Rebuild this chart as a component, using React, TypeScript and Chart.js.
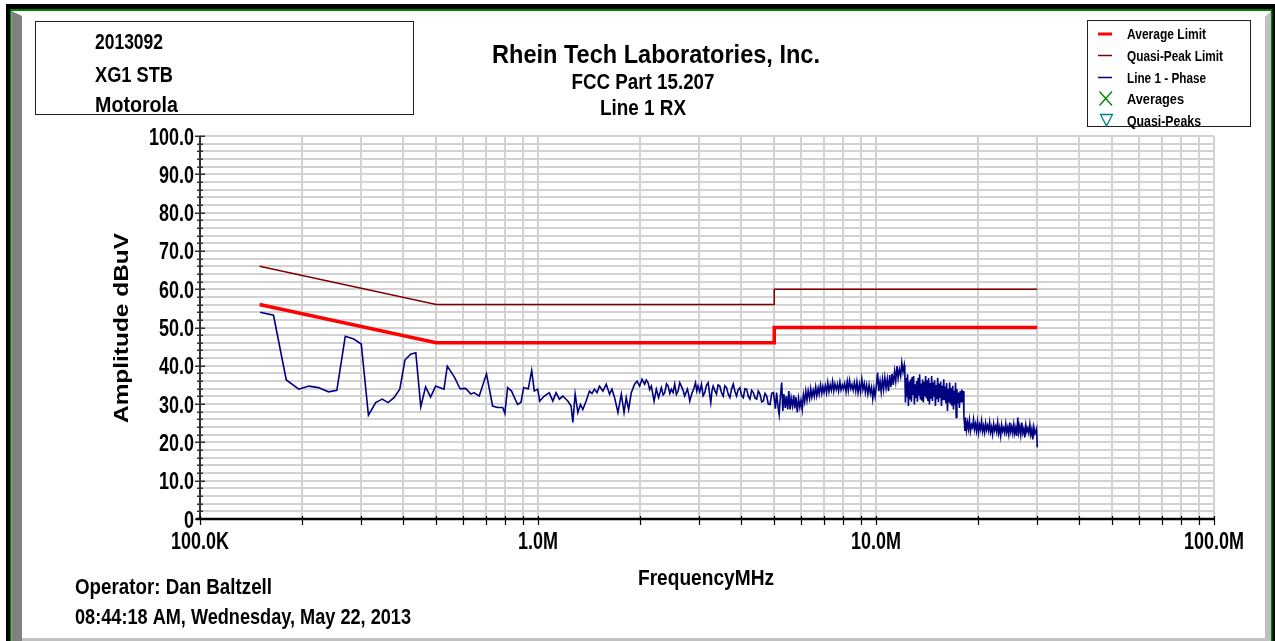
import React, { useEffect, useRef } from 'react';
import { Chart, registerables } from 'chart.js';

Chart.register(...registerables);

const FONT = '"Liberation Sans", Arial, sans-serif';

// ---- limit lines (frequency MHz, amplitude dBuV) ----
const avgLimitFreq = [0.15, 0.5, 5, 5, 30];
const avgLimitDb = [56, 46, 46, 50, 50];
const qpLimitFreq = [0.15, 0.5, 5, 5, 30];
const qpLimitDb = [66, 56, 56, 60, 60];

// ---- measured trace: Line 1 - Phase  [MHz, dBuV] ----
const line1Phase: [number, number][] = [
  [0.1506, 54.0], [0.165, 53.2], [0.18, 36.3], [0.196, 33.9], [0.21, 34.7], [0.224, 34.3],
  [0.24, 33.2], [0.254, 33.6], [0.269, 47.7], [0.285, 47.0], [0.3, 45.7], [0.315, 27.1],
  [0.331, 30.4], [0.346, 31.3], [0.36, 30.4], [0.375, 31.7], [0.39, 33.9], [0.404, 41.5],
  [0.42, 43.0], [0.435, 43.4], [0.45, 29.3], [0.465, 34.5], [0.481, 31.8], [0.498, 34.7],
  [0.527, 33.9], [0.539, 39.9], [0.567, 36.9], [0.588, 34.0], [0.611, 34.1], [0.633, 32.6],
  [0.647, 33.0], [0.67, 32.1], [0.704, 37.9], [0.734, 29.5], [0.759, 29.1], [0.786, 29.1],
  [0.798, 27.6], [0.813, 34.3], [0.835, 33.4], [0.87, 29.9], [0.89, 30.4], [0.907, 34.3],
  [0.936, 34.0], [0.958, 38.8], [0.975, 33.4], [0.998, 33.9], [1.012, 30.8], [1.044, 32.1],
  [1.08, 33.0], [1.106, 30.8], [1.131, 33.0], [1.157, 31.3], [1.184, 32.1], [1.225, 30.8],
  [1.253, 29.5], [1.268, 25.2], [1.288, 32.6], [1.312, 27.8], [1.335, 29.9], [1.357, 28.6],
  [1.388, 30.8], [1.42, 33.4], [1.445, 32.8], [1.469, 33.9], [1.495, 33.0], [1.52, 34.7],
  [1.556, 33.4], [1.592, 35.2], [1.628, 32.6], [1.655, 33.9], [1.685, 31.7], [1.724, 27.8],
  [1.764, 32.6], [1.797, 27.8], [1.824, 31.7], [1.854, 28.6], [1.888, 33.0], [1.931, 35.2],
  [1.963, 36.0], [1.998, 34.7], [2.031, 36.5], [2.068, 35.2], [2.09, 36.3], [2.116, 35.6],
  [2.14, 33.8], [2.164, 34.7], [2.205, 30.8], [2.239, 33.9], [2.275, 31.7], [2.317, 34.3],
  [2.345, 32.4], [2.371, 33.0], [2.4, 35.3], [2.426, 34.7], [2.455, 32.8], [2.481, 33.9],
  [2.51, 33.0], [2.538, 35.2], [2.567, 32.5], [2.597, 33.4], [2.626, 35.6], [2.656, 34.7],
  [2.686, 33.6], [2.716, 32.1], [2.767, 33.9], [2.79, 32.6], [2.812, 30.8], [2.858, 33.0],
  [2.89, 34.0], [2.924, 35.6], [2.95, 33.4], [2.974, 34.7], [3.01, 33.2], [3.045, 35.2],
  [3.08, 32.2], [3.115, 33.0], [3.15, 34.9], [3.188, 35.6], [3.215, 33.0], [3.245, 30.4],
  [3.27, 33.4], [3.298, 34.7], [3.335, 33.5], [3.374, 32.6], [3.41, 35.0], [3.451, 34.7],
  [3.49, 33.0], [3.532, 32.1], [3.57, 34.8], [3.613, 34.3], [3.655, 32.6], [3.696, 31.7],
  [3.74, 34.0], [3.782, 35.2], [3.825, 33.3], [3.868, 32.1], [3.91, 33.8], [3.957, 34.3],
  [4.0, 32.3], [4.05, 31.7], [4.095, 34.0], [4.142, 33.9], [4.19, 32.0], [4.237, 31.3],
  [4.285, 33.6], [4.336, 33.0], [4.385, 31.6], [4.436, 31.3], [4.485, 33.4], [4.537, 32.6],
  [4.59, 30.6], [4.643, 30.8], [4.695, 32.8], [4.75, 32.1], [4.8, 30.0], [4.859, 29.9],
  [4.915, 32.8], [4.972, 33.0],
  [5.0, 31.5], [5.04, 28.8], [5.08, 33.0], [5.13, 29.4], [5.17, 27.3], [5.21, 31.8],
  [5.26, 35.6], [5.3, 28.2], [5.34, 32.6], [5.39, 29.0], [5.43, 32.1], [5.48, 28.6],
  [5.52, 33.4], [5.57, 28.6], [5.61, 31.6], [5.66, 29.5], [5.71, 32.3], [5.75, 28.9],
  [5.8, 31.8], [5.85, 27.8], [5.9, 31.5], [5.95, 29.2], [6.0, 31.0], [6.05, 28.6],
  [6.1, 32.5], [6.15, 30.6], [6.2, 33.4], [6.25, 31.0], [6.3, 33.5], [6.36, 31.4],
  [6.41, 34.0], [6.46, 31.8], [6.52, 33.6], [6.57, 32.0], [6.63, 34.5], [6.68, 32.2],
  [6.74, 34.2], [6.79, 32.6], [6.85, 35.0], [6.91, 32.8], [6.96, 34.6], [7.02, 33.0],
  [7.08, 34.8], [7.14, 32.9], [7.2, 35.6], [7.26, 33.2], [7.32, 35.0], [7.38, 33.6],
  [7.44, 35.9], [7.5, 33.4], [7.56, 35.3], [7.63, 33.8], [7.69, 35.2], [7.75, 33.4],
  [7.82, 35.8], [7.88, 33.7], [7.95, 35.0], [8.01, 34.0], [8.08, 35.4], [8.15, 33.2],
  [8.22, 35.9], [8.28, 33.6], [8.35, 36.2], [8.42, 34.0], [8.49, 35.1], [8.56, 33.6],
  [8.63, 35.6], [8.71, 33.4], [8.78, 35.8], [8.85, 33.0], [8.93, 35.2], [9.0, 33.2],
  [9.08, 36.5], [9.15, 33.8], [9.23, 35.4], [9.3, 33.0], [9.38, 35.0], [9.46, 32.6],
  [9.54, 35.0], [9.62, 32.8], [9.7, 34.4], [9.78, 31.4], [9.86, 34.2], [9.94, 32.0],
  [10.02, 34.6], [10.11, 38.2], [10.19, 33.4], [10.28, 36.0], [10.36, 33.2], [10.45, 36.5],
  [10.53, 33.8], [10.62, 37.0], [10.71, 34.2], [10.8, 36.6], [10.89, 33.4], [10.98, 37.6],
  [11.07, 34.5], [11.16, 37.9], [11.25, 35.0], [11.35, 38.6], [11.44, 36.0], [11.54, 39.9],
  [11.63, 36.8], [11.73, 39.0], [11.83, 37.3], [11.92, 40.8], [12.02, 38.4], [12.12, 40.2],
  [12.17, 38.2],
  [12.22, 30.4], [12.28, 36.9], [12.34, 31.8], [12.4, 37.8], [12.47, 29.5], [12.53, 35.9],
  [12.6, 31.2], [12.66, 36.5], [12.73, 30.6], [12.79, 37.1], [12.86, 32.4], [12.92, 37.3],
  [12.99, 29.9], [13.05, 35.2], [13.12, 31.6], [13.19, 36.0], [13.26, 30.6], [13.33, 36.8],
  [13.4, 32.2], [13.46, 37.8], [13.53, 31.2], [13.6, 35.4], [13.67, 30.9], [13.74, 36.4],
  [13.81, 30.4], [13.88, 35.8], [13.95, 32.0], [14.02, 37.3], [14.1, 31.5], [14.17, 36.2],
  [14.24, 30.8], [14.31, 36.8], [14.39, 29.9], [14.46, 35.5], [14.54, 31.4], [14.61, 37.3],
  [14.69, 30.8], [14.76, 35.6], [14.84, 31.9], [14.91, 36.2], [14.99, 29.5], [15.06, 35.0],
  [15.14, 31.3], [15.22, 36.9], [15.3, 30.5], [15.38, 35.4], [15.46, 31.6], [15.54, 35.8],
  [15.62, 29.5], [15.7, 34.8], [15.78, 31.0], [15.86, 36.5], [15.94, 31.0], [16.02, 34.6],
  [16.1, 30.2], [16.18, 35.5], [16.27, 28.2], [16.35, 34.0], [16.44, 30.4], [16.52, 35.6],
  [16.61, 30.0], [16.69, 34.2], [16.78, 29.6], [16.86, 34.8], [16.95, 28.6], [17.03, 33.5],
  [17.12, 29.8], [17.19, 35.6], [17.27, 26.5], [17.35, 33.9], [17.45, 30.2], [17.55, 33.0],
  [17.65, 29.0], [17.75, 33.4], [17.85, 30.6], [17.95, 33.8], [18.05, 30.5], [18.12, 33.4],
  [18.2, 26.9], [18.33, 23.0],
  [18.4, 26.5], [18.52, 23.2], [18.65, 25.2], [18.77, 23.5], [18.9, 25.8], [19.03, 22.9],
  [19.17, 24.6], [19.3, 23.9], [19.43, 26.0], [19.56, 23.4], [19.7, 24.8], [19.83, 23.0],
  [19.97, 25.4], [20.11, 22.6], [20.25, 24.6], [20.39, 23.4], [20.53, 25.6], [20.67, 22.9],
  [20.81, 24.3], [20.95, 22.6], [21.1, 25.0], [21.24, 23.2], [21.39, 24.4], [21.54, 23.0],
  [21.69, 25.2], [21.83, 22.7], [21.98, 24.0], [22.13, 22.1], [22.29, 24.8], [22.44, 23.1],
  [22.6, 24.2], [22.75, 22.8], [22.91, 25.2], [23.06, 22.4], [23.22, 23.9], [23.38, 21.7],
  [23.54, 24.6], [23.7, 22.9], [23.87, 23.8], [24.03, 22.5], [24.2, 24.8], [24.36, 22.6],
  [24.53, 23.9], [24.7, 22.1], [24.87, 25.2], [25.04, 22.8], [25.21, 24.1], [25.38, 22.4],
  [25.56, 24.7], [25.73, 22.3], [25.91, 23.8], [26.09, 21.7], [26.27, 26.5], [26.45, 22.6],
  [26.63, 24.2], [26.81, 22.0], [27.0, 25.2], [27.18, 22.5], [27.37, 23.6], [27.56, 21.3],
  [27.75, 24.5], [27.94, 22.8], [28.13, 23.7], [28.32, 22.4], [28.52, 24.7], [28.72, 22.0],
  [28.92, 23.5], [29.11, 20.8], [29.31, 24.0], [29.52, 22.3], [29.72, 23.0], [29.86, 23.6],
  [30.0, 18.7],
];

// ---- axes ----
const xGridValues = [
  0.1, 0.2, 0.3, 0.4, 0.5, 0.6, 0.7, 0.8, 0.9,
  1, 2, 3, 4, 5, 6, 7, 8, 9,
  10, 20, 30, 40, 50, 60, 70, 80, 90, 100,
];
const xLabelValues = [0.1, 1, 10, 100];
const xLabelTexts = ['100.0K', '1.0M', '10.0M', '100.0M'];
const yGridValues = [
  0, 2, 4, 6, 8, 10, 12, 14, 16, 18, 20, 22, 24, 26, 28, 30, 32, 34, 36, 38, 40, 42, 44, 46, 48, 50,
  52, 54, 56, 58, 60, 62, 64, 66, 68, 70, 72, 74, 76, 78, 80, 82, 84, 86, 88, 90, 92, 94, 96, 98, 100,
];
const yLabelValues = [0, 10, 20, 30, 40, 50, 60, 70, 80, 90, 100];
const yLabelTexts = ['0', '10.0', '20.0', '30.0', '40.0', '50.0', '60.0', '70.0', '80.0', '90.0', '100.0'];

// ---- texts ----
const infoLines = ['2013092', 'XG1 STB', 'Motorola'];
const titleLines = ['Rhein Tech Laboratories, Inc.', 'FCC Part 15.207', 'Line 1 RX'];
const legendLabels = ['Average Limit', 'Quasi-Peak Limit', 'Line 1 - Phase', 'Averages', 'Quasi-Peaks'];
const yAxisTitle = 'Amplitude dBuV';
const xAxisTitle = 'FrequencyMHz';
const operatorText = 'Operator: Dan Baltzell';
const dateText = '08:44:18 AM, Wednesday, May 22, 2013';

function fitText(
  ctx: CanvasRenderingContext2D,
  text: string,
  x: number,
  y: number,
  size: number,
  width: number,
  align: CanvasTextAlign,
  rotate = false,
) {
  ctx.save();
  ctx.font = `bold ${size}px ${FONT}`;
  const m = ctx.measureText(text).width;
  const sx = width / m;
  ctx.translate(x, y);
  if (rotate) ctx.rotate(-Math.PI / 2);
  ctx.scale(sx, 1);
  ctx.textAlign = align;
  ctx.textBaseline = 'alphabetic';
  ctx.fillStyle = '#000';
  ctx.fillText(text, 0, 0);
  ctx.restore();
}

function scaledText(
  ctx: CanvasRenderingContext2D,
  text: string,
  x: number,
  y: number,
  size: number,
  sx: number,
  align: CanvasTextAlign,
) {
  ctx.save();
  ctx.font = `bold ${size}px ${FONT}`;
  ctx.translate(x, y);
  ctx.scale(sx, 1);
  ctx.textAlign = align;
  ctx.textBaseline = 'alphabetic';
  ctx.fillStyle = '#000';
  ctx.fillText(text, 0, 0);
  ctx.restore();
}

const decorPlugin = {
  id: 'decor',
  beforeDraw(chart: any) {
    const ctx: CanvasRenderingContext2D = chart.ctx;
    const W = chart.width;
    const H = chart.height;
    ctx.save();
    ctx.fillStyle = '#ffffff';
    ctx.fillRect(0, 0, W, H);
    // black outer frame
    ctx.fillStyle = '#000000';
    ctx.fillRect(6, 4, W - 6, 5);
    ctx.fillRect(6, 4, 4, H - 4);
    ctx.fillRect(W - 3, 4, 3, H - 4);
    // green frame
    ctx.fillStyle = '#008000';
    ctx.fillRect(10, 9, W - 13, 2);
    ctx.fillRect(10, 9, 1.5, H - 9);
    ctx.fillRect(W - 4, 9, 1.5, H - 9);
    // bevels
    ctx.fillStyle = '#808080';
    ctx.beginPath();
    ctx.moveTo(11.5, 11);
    ctx.lineTo(22, 16);
    ctx.lineTo(22, H);
    ctx.lineTo(11.5, H);
    ctx.closePath();
    ctx.fill();
    ctx.fillStyle = '#c0c0c0';
    ctx.beginPath();
    ctx.moveTo(W - 4, 11);
    ctx.lineTo(W - 4, H);
    ctx.lineTo(W - 10, H);
    ctx.lineTo(W - 10, 17);
    ctx.closePath();
    ctx.fill();
    ctx.fillRect(22, H - 3, W - 32, 3);
    ctx.restore();
  },
  beforeDatasetsDraw(chart: any) {
    const ctx: CanvasRenderingContext2D = chart.ctx;
    const xs = chart.scales.x;
    const ys = chart.scales.y;
    const a = chart.chartArea;
    ctx.save();
    ctx.strokeStyle = '#d2d2d2';
    ctx.lineWidth = 2;
    ctx.beginPath();
    for (const v of xGridValues) {
      const px = Math.round(xs.getPixelForValue(v));
      ctx.moveTo(px, a.top);
      ctx.lineTo(px, a.bottom);
    }
    for (const v of yGridValues) {
      const py = Math.round(ys.getPixelForValue(v));
      ctx.moveTo(a.left, py);
      ctx.lineTo(a.right, py);
    }
    ctx.stroke();
    ctx.restore();
  },
  afterDatasetsDraw(chart: any) {
    const ctx: CanvasRenderingContext2D = chart.ctx;
    const xs = chart.scales.x;
    const ys = chart.scales.y;
    const a = chart.chartArea;
    ctx.save();
    // Y axis line and ticks
    ctx.strokeStyle = '#303030';
    ctx.lineWidth = 2;
    ctx.beginPath();
    ctx.moveTo(a.left, a.top);
    ctx.lineTo(a.left, a.bottom);
    ctx.stroke();
    ctx.lineWidth = 1.5;
    ctx.beginPath();
    for (const v of yGridValues) {
      const py = Math.round(ys.getPixelForValue(v)) + 0.25;
      const major = v % 10 === 0;
      ctx.moveTo(a.left - (major ? 5 : 3), py);
      ctx.lineTo(a.left + (major ? 5 : 3), py);
    }
    ctx.stroke();
    // X axis line and ticks
    ctx.strokeStyle = '#000000';
    ctx.lineWidth = 2.5;
    ctx.beginPath();
    ctx.moveTo(a.left - 4, a.bottom);
    ctx.lineTo(a.right, a.bottom);
    ctx.stroke();
    ctx.lineWidth = 1.2;
    ctx.beginPath();
    for (const v of xGridValues) {
      const px = Math.round(xs.getPixelForValue(v)) + 0.5;
      ctx.moveTo(px, a.bottom - 3);
      ctx.lineTo(px, a.bottom + 6);
    }
    ctx.stroke();
    ctx.restore();

    // tick labels
    ctx.font = `bold 23px ${FONT}`;
    const ySx = 45 / ctx.measureText('100.0').width;
    yLabelValues.forEach((v, i) => {
      const py = ys.getPixelForValue(v);
      scaledText(ctx, yLabelTexts[i], a.left - 6, py + 8.5, 23, ySx, 'right');
    });
    ctx.font = `bold 23px ${FONT}`;
    const xSx = 58 / ctx.measureText('100.0K').width;
    xLabelValues.forEach((v, i) => {
      const px = xs.getPixelForValue(v);
      scaledText(ctx, xLabelTexts[i], px, a.bottom + 30, 23, xSx, 'center');
    });

    // axis titles
    fitText(ctx, yAxisTitle, 128, 328, 21, 190, 'center', true);
    fitText(ctx, xAxisTitle, 706, 585, 22, 136, 'center');

    // bottom-left texts
    fitText(ctx, operatorText, 75, 594, 22, 197, 'left');
    fitText(ctx, dateText, 75, 624, 22, 336, 'left');

    // info box
    ctx.save();
    ctx.strokeStyle = '#202020';
    ctx.lineWidth = 1;
    ctx.strokeRect(35.5, 21.5, 378, 93);
    ctx.restore();
    fitText(ctx, infoLines[0], 95, 49, 22, 68, 'left');
    fitText(ctx, infoLines[1], 95, 82, 22, 78, 'left');
    fitText(ctx, infoLines[2], 95, 112, 22, 83, 'left');

    // title
    fitText(ctx, titleLines[0], 656, 63, 26, 328, 'center');
    fitText(ctx, titleLines[1], 643, 89, 22, 143, 'center');
    fitText(ctx, titleLines[2], 643, 115, 22, 86, 'center');

    // legend
    ctx.save();
    ctx.fillStyle = '#ffffff';
    ctx.fillRect(1087, 20, 163, 107);
    ctx.strokeStyle = '#202020';
    ctx.lineWidth = 1;
    ctx.strokeRect(1087.5, 20.5, 163, 106);
    const rows = [34, 55.5, 77.5, 98.5, 121];
    const lineStyles = [
      { c: '#ff0000', w: 3 },
      { c: '#800000', w: 1.5 },
      { c: '#000080', w: 1.5 },
    ];
    lineStyles.forEach((s, i) => {
      ctx.strokeStyle = s.c;
      ctx.lineWidth = s.w;
      ctx.beginPath();
      ctx.moveTo(1098, rows[i]);
      ctx.lineTo(1112, rows[i]);
      ctx.stroke();
    });
    ctx.strokeStyle = '#008000';
    ctx.lineWidth = 1.3;
    ctx.beginPath();
    ctx.moveTo(1099.5, rows[3] - 7);
    ctx.lineTo(1112, rows[3] + 7);
    ctx.moveTo(1112, rows[3] - 7);
    ctx.lineTo(1099.5, rows[3] + 7);
    ctx.stroke();
    ctx.strokeStyle = '#008080';
    ctx.beginPath();
    ctx.moveTo(1100.5, rows[4] - 6.5);
    ctx.lineTo(1112.5, rows[4] - 6.5);
    ctx.lineTo(1106.5, rows[4] + 5);
    ctx.closePath();
    ctx.stroke();
    ctx.restore();
    const legendWidths = [79, 96, 79, 57, 74];
    legendLabels.forEach((t, i) => {
      fitText(ctx, t, 1127, rows[i] + 5, 14, legendWidths[i], 'left');
    });
  },
};

export default function App() {
  const canvasRef = useRef<HTMLCanvasElement | null>(null);

  useEffect(() => {
    const canvas = canvasRef.current;
    if (!canvas) return;
    const chart = new Chart(canvas, {
      type: 'line',
      data: {
        datasets: [
          {
            label: 'Line 1 - Phase',
            data: line1Phase.map(([f, d]) => ({ x: f, y: d })),
            borderColor: '#000080',
            borderWidth: 1.6,
            pointRadius: 0,
            tension: 0,
            order: 3,
          },
          {
            label: 'Quasi-Peak Limit',
            data: qpLimitFreq.map((f, i) => ({ x: f, y: qpLimitDb[i] })),
            borderColor: '#800000',
            borderWidth: 1.5,
            pointRadius: 0,
            tension: 0,
            order: 2,
          },
          {
            label: 'Average Limit',
            data: avgLimitFreq.map((f, i) => ({ x: f, y: avgLimitDb[i] })),
            borderColor: '#ff0000',
            borderWidth: 3.5,
            pointRadius: 0,
            tension: 0,
            order: 1,
          },
        ],
      },
      options: {
        animation: false,
        responsive: false,
        devicePixelRatio: 1,
        events: [],
        layout: { padding: { left: 200, right: 61, top: 136, bottom: 122 } },
        plugins: {
          legend: { display: false },
          title: { display: false },
          tooltip: { enabled: false },
        },
        scales: {
          x: { type: 'logarithmic', min: 0.1, max: 100, display: false },
          y: { type: 'linear', min: 0, max: 100, display: false },
        },
      },
      plugins: [decorPlugin],
    });
    return () => chart.destroy();
  }, []);

  return (
    <div style={{ position: 'absolute', left: 0, top: 0, width: 1275, height: 641 }}>
      <canvas ref={canvasRef} width={1275} height={641} style={{ width: 1275, height: 641, display: 'block' }} />
    </div>
  );
}
